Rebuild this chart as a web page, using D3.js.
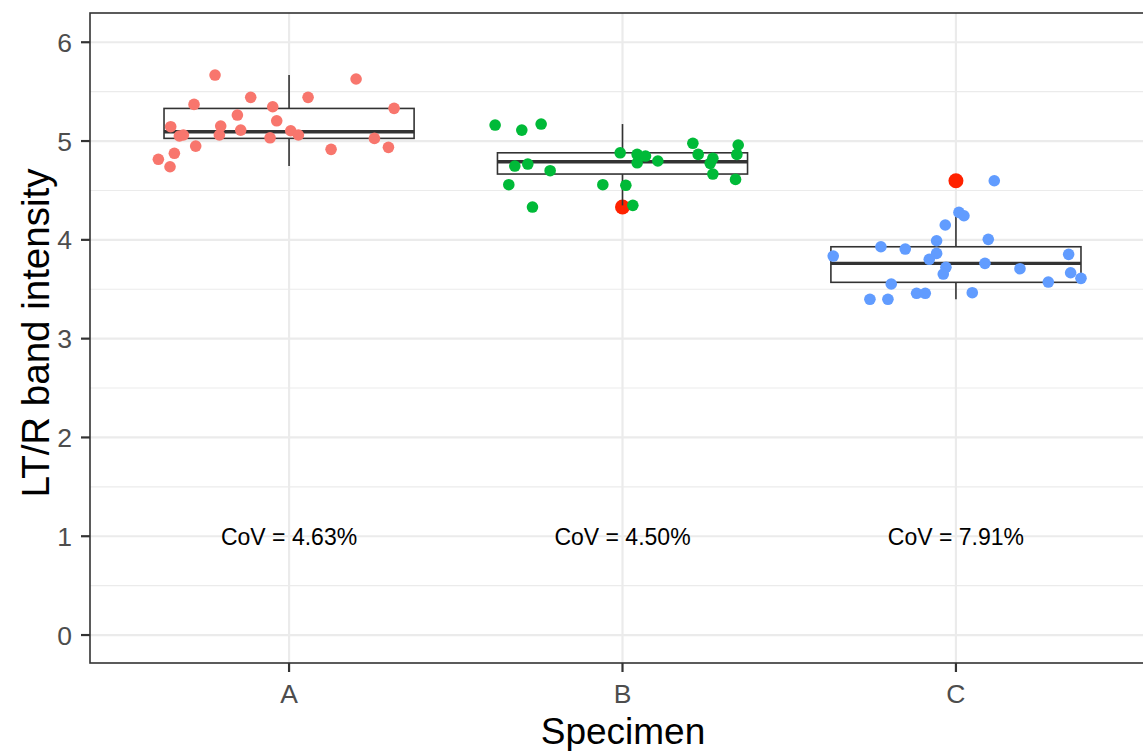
<!DOCTYPE html>
<html>
<head>
<meta charset="utf-8">
<script src="https://cdn.jsdelivr.net/npm/d3@7"></script>
<style>
  html, body { margin: 0; padding: 0; background: #fff; }
  svg { display: block; font-family: "Liberation Sans", Arial, Helvetica, sans-serif; }
</style>
</head>
<body>
<svg id="chart" width="1143" height="751"></svg>
<script>
// ---- data ----
const categories = ["A", "B", "C"];
const seriesColors = ["#F8766D", "#00BA38", "#619CFF"];

// jittered observations: value and horizontal jitter (in category units)
const valuesA = [5.668, 5.628, 5.442, 5.442, 5.371, 5.347, 5.331, 5.263, 5.205, 5.145, 5.152, 5.111, 5.104, 5.061, 5.061, 5.051, 5.061, 5.033, 5.027, 4.949, 4.916, 4.936, 4.876, 4.815, 4.740];
const jitterA = [-0.222, 0.201, -0.115, 0.057, -0.285, -0.049, 0.315, -0.155, -0.037, -0.355, -0.205, -0.145, 0.005, 0.028, -0.209, -0.329, -0.317, -0.057, 0.256, -0.280, 0.126, 0.298, -0.344, -0.392, -0.357];

const valuesB = [5.162, 5.111, 5.172, 4.977, 4.960, 4.881, 4.865, 4.848, 4.865, 4.865, 4.825, 4.798, 4.780, 4.767, 4.747, 4.774, 4.700, 4.666, 4.558, 4.558, 4.552, 4.612, 4.332, 4.349];
const jitterB = [-0.382, -0.302, -0.244, 0.211, 0.347, -0.007, 0.044, 0.069, 0.227, 0.343, 0.271, 0.106, 0.044, -0.284, -0.323, 0.263, -0.217, 0.271, -0.341, -0.059, 0.010, 0.339, -0.270, 0.031];

const valuesC = [4.598, 4.278, 4.244, 4.150, 3.991, 4.005, 3.930, 3.907, 3.863, 3.853, 3.836, 3.803, 3.762, 3.722, 3.708, 3.654, 3.667, 3.610, 3.573, 3.553, 3.465, 3.459, 3.459, 3.398, 3.398];
const jitterC = [0.115, 0.009, 0.024, -0.032, -0.058, 0.097, -0.225, -0.152, -0.058, 0.338, -0.368, -0.080, 0.087, -0.030, 0.192, -0.038, 0.344, 0.375, 0.277, -0.194, 0.049, -0.118, -0.092, -0.258, -0.204];

// boxplot statistics
const whiskerLow  = [4.747, 4.349, 3.398];
const q1          = [5.027, 4.666, 3.570];
const medians     = [5.094, 4.790, 3.762];
const q3          = [5.330, 4.881, 3.930];
const whiskerHigh = [5.668, 5.172, 4.278];
const outliers    = [[], [4.332], [4.598]];

const covLabels = ["CoV = 4.63%", "CoV = 4.50%", "CoV = 7.91%"];
const covY = 1;

const yTicks = [0, 1, 2, 3, 4, 5, 6];
const yMinor = [0.5, 1.5, 2.5, 3.5, 4.5, 5.5];
const xTitle = "Specimen";
const yTitle = "LT/R band intensity";

// ---- drawing ----
const W = 1143, H = 751;
const svg = d3.select("#chart");

const x = d3.scaleLinear().domain([0.4, 3.6]).range([89, 1156]);
const y = d3.scaleLinear().domain([-0.283, 6.296]).range([663, 13]);
const xc = c => x(categories.indexOf(c) + 1);

svg.append("defs").append("clipPath").attr("id", "clip")
  .append("rect").attr("x", 90).attr("y", 13).attr("width", W - 90).attr("height", 650);

const g = svg.append("g").attr("clip-path", "url(#clip)");

// background
g.append("rect").attr("x", 90).attr("y", 13).attr("width", W).attr("height", 650).attr("fill", "#fff");

// grid
g.selectAll(".minor").data(yMinor).join("line")
  .attr("x1", 90).attr("x2", W)
  .attr("y1", d => y(d)).attr("y2", d => y(d))
  .attr("stroke", "#EBEBEB").attr("stroke-width", 1.1);
g.selectAll(".major").data(yTicks).join("line")
  .attr("x1", 90).attr("x2", W)
  .attr("y1", d => y(d)).attr("y2", d => y(d))
  .attr("stroke", "#EBEBEB").attr("stroke-width", 2.2);
g.selectAll(".vmajor").data(categories).join("line")
  .attr("x1", d => xc(d)).attr("x2", d => xc(d))
  .attr("y1", 13).attr("y2", 663)
  .attr("stroke", "#EBEBEB").attr("stroke-width", 2.2);

// boxplots
const boxHalf = (x(2) - x(1)) * 0.375;
categories.forEach((c, i) => {
  const cx = xc(c);
  const bg = g.append("g");
  // outliers first
  bg.selectAll("circle").data(outliers[i]).join("circle")
    .attr("cx", cx).attr("cy", d => y(d)).attr("r", 7.5)
    .attr("fill", "#FF2200");
  // whiskers
  bg.append("line").attr("x1", cx).attr("x2", cx)
    .attr("y1", y(q3[i])).attr("y2", y(whiskerHigh[i]))
    .attr("stroke", "#333333").attr("stroke-width", 1.6);
  bg.append("line").attr("x1", cx).attr("x2", cx)
    .attr("y1", y(q1[i])).attr("y2", y(whiskerLow[i]))
    .attr("stroke", "#333333").attr("stroke-width", 1.6);
  // box
  bg.append("rect").attr("x", cx - boxHalf).attr("width", boxHalf * 2)
    .attr("y", y(q3[i])).attr("height", y(q1[i]) - y(q3[i]))
    .attr("fill", "#fff").attr("stroke", "#333333").attr("stroke-width", 1.6);
  bg.append("line").attr("x1", cx - boxHalf).attr("x2", cx + boxHalf)
    .attr("y1", y(medians[i])).attr("y2", y(medians[i]))
    .attr("stroke", "#333333").attr("stroke-width", 3.4);
});

// jittered points
const series = [
  { cat: "A", values: valuesA, jitter: jitterA },
  { cat: "B", values: valuesB, jitter: jitterB },
  { cat: "C", values: valuesC, jitter: jitterC }
];
series.forEach((s, i) => {
  const pos = categories.indexOf(s.cat) + 1;
  g.append("g").selectAll("circle").data(s.values).join("circle")
    .attr("cx", (d, k) => x(pos + s.jitter[k]))
    .attr("cy", d => y(d))
    .attr("r", 5.8)
    .attr("fill", seriesColors[i]);
});

// CoV labels
g.selectAll(".cov").data(categories).join("text")
  .attr("x", d => xc(d)).attr("y", y(covY)).attr("dy", "0.36em")
  .attr("text-anchor", "middle").attr("font-size", 23).attr("fill", "#000")
  .text((d, i) => covLabels[i]);

// panel border
svg.append("rect").attr("x", 90).attr("y", 13).attr("width", 1156 - 90).attr("height", 650)
  .attr("fill", "none").attr("stroke", "#333333").attr("stroke-width", 1.6);

// y axis ticks + labels
svg.selectAll(".ytick").data(yTicks).join("line")
  .attr("x1", 81).attr("x2", 90).attr("y1", d => y(d)).attr("y2", d => y(d))
  .attr("stroke", "#333333").attr("stroke-width", 2.2);
svg.selectAll(".ylab").data(yTicks).join("text")
  .attr("x", 72).attr("y", d => y(d)).attr("dy", "0.36em")
  .attr("text-anchor", "end").attr("font-size", 26.5).attr("fill", "#4D4D4D")
  .text(d => d);

// x axis ticks + labels
svg.selectAll(".xtick").data(categories).join("line")
  .attr("x1", d => xc(d)).attr("x2", d => xc(d)).attr("y1", 663).attr("y2", 672)
  .attr("stroke", "#333333").attr("stroke-width", 2.2);
svg.selectAll(".xlab").data(categories).join("text")
  .attr("x", d => xc(d)).attr("y", 703)
  .attr("text-anchor", "middle").attr("font-size", 26.5).attr("fill", "#4D4D4D")
  .text(d => d);

// axis titles
svg.append("text").attr("x", 623).attr("y", 744)
  .attr("text-anchor", "middle").attr("font-size", 37).attr("fill", "#000")
  .text(xTitle);
svg.append("text").attr("transform", "translate(49,333) rotate(-90)")
  .attr("text-anchor", "middle").attr("font-size", 38.5).attr("fill", "#000")
  .text(yTitle);
</script>
</body>
</html>
